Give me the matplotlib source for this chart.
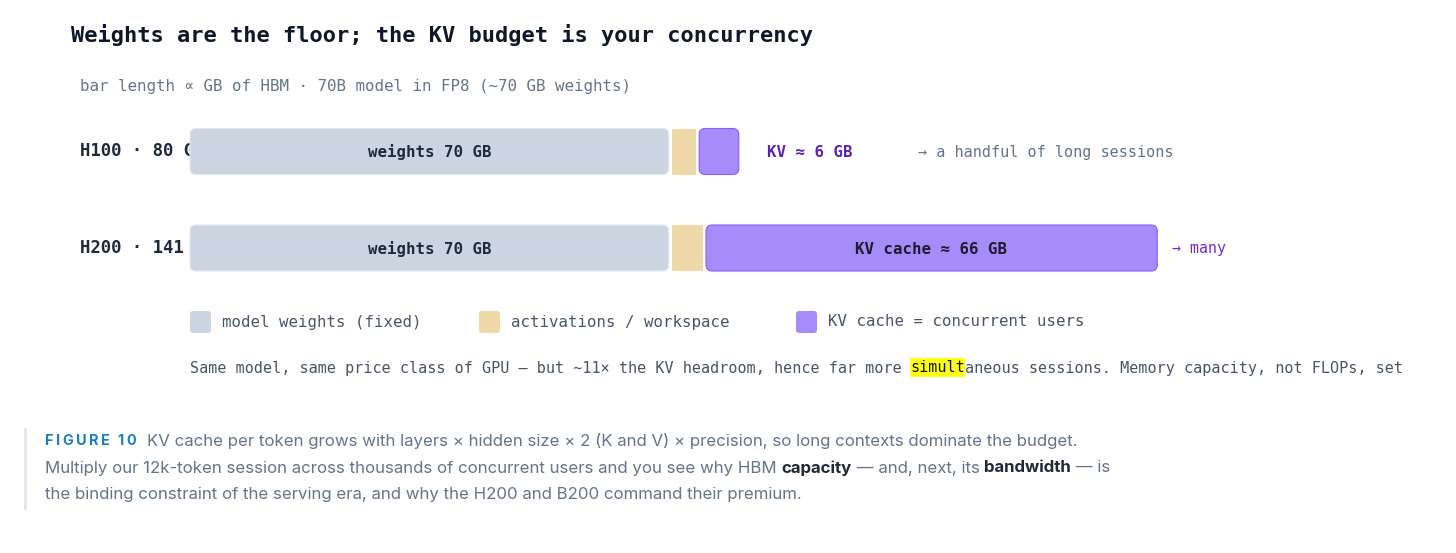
import matplotlib
matplotlib.use('Agg')
import matplotlib.pyplot as plt
from matplotlib.patches import FancyBboxPatch, Rectangle
from matplotlib.transforms import Affine2D

# data (GB of HBM)
gpus = ['H100 · 80 GB', 'H200 · 141 GB']
weights_gb = [70, 70]
activations_gb = [4, 5]
kv_gb = [6, 66]
kv_labels = ['KV ≈ 6 GB', 'KV cache ≈ 66 GB']
kv_notes = ['→ a handful of long sessions', '→ many']
legend_labels = ['model weights (fixed)', 'activations / workspace', 'KV cache = concurrent users']

C_W = '#cbd5e1'
C_ACT = '#f0d9a8'
C_KV = '#a78bfa'
MONO = 'DejaVu Sans Mono'

W, H = 1456, 553
fig = plt.figure(figsize=(W / 100, H / 100), dpi=100)
# pixel transform, origin top-left
px = Affine2D().scale(1.0 / W, -1.0 / H).translate(0, 1) + fig.transFigure

# bar axes: x in GB, y in pixels
ppg = 6.86
x0 = 190
ax = fig.add_axes([0, 0, 1, 1])
ax.set_xlim(-x0 / ppg, (W - x0) / ppg)
ax.set_ylim(H, 0)
ax.axis('off')

row_y = [151.5, 248]
bar_h = 46
gap = 3 / ppg

for i, gpu in enumerate(gpus):
    y = row_y[i]
    ax.text(80, y, gpu, transform=px, ha='left', va='center', family=MONO,
            fontsize=12.4, fontweight='bold', color='#1e293b', zorder=1)
    segs = [(weights_gb[i], C_W, True), (activations_gb[i], C_ACT, False), (kv_gb[i], C_KV, True)]
    start = 0
    for j, (v, c, rounded) in enumerate(segs):
        left = start + (gap / 2 if j > 0 else 0)
        right = start + v - (gap / 2 if j < len(segs) - 1 else 0)
        if rounded:
            r = 6 / ppg
            p = FancyBboxPatch((left + r, y - bar_h / 2 + r * ppg), right - left - 2 * r, bar_h - 2 * r * ppg,
                               boxstyle='round,pad=%f,rounding_size=%f' % (r, r), mutation_aspect=ppg,
                               facecolor=c, edgecolor='#8b5cf6' if c == C_KV else '#e2e8f0',
                               linewidth=0.8, zorder=3)
        else:
            p = Rectangle((left, y - bar_h / 2), right - left, bar_h, facecolor=c, edgecolor='none', zorder=3)
        ax.add_patch(p)
        start += v

    w_mid = weights_gb[i] / 2
    ax.text(w_mid, y + 1, 'weights %d GB' % weights_gb[i], ha='center', va='center', family=MONO,
            fontsize=11.3, fontweight='bold', color='#1e293b', zorder=4)

# H100: KV label outside the bar
end0 = weights_gb[0] + activations_gb[0] + kv_gb[0]
ax.text(end0 + 28 / ppg, row_y[0] + 1, kv_labels[0], ha='left', va='center', family=MONO,
        fontsize=11.3, fontweight='bold', color='#5b21b6', zorder=4)
ax.text(end0 + 179 / ppg, row_y[0] + 1, kv_notes[0], ha='left', va='center', family=MONO,
        fontsize=10.9, color='#64748b', zorder=4)
# H200: KV label inside the bar
kv_start1 = weights_gb[1] + activations_gb[1]
ax.text(kv_start1 + kv_gb[1] / 2, row_y[1] + 1, kv_labels[1], ha='center', va='center', family=MONO,
        fontsize=11.3, fontweight='bold', color='#1e1b2e', zorder=4)
ax.text(kv_start1 + kv_gb[1] + 15 / ppg, row_y[1] + 1, kv_notes[1], ha='left', va='center', family=MONO,
        fontsize=10.7, color='#6d28d9', zorder=4)

# title and subtitle
fig.text(71, 35, 'Weights are the floor; the KV budget is your concurrency', transform=px,
         ha='left', va='center', family=MONO, fontsize=15.8, fontweight='bold', color='#0f172a')
fig.text(80, 87, 'bar length ∝ GB of HBM · 70B model in FP8 (~70 GB weights)', transform=px,
         ha='left', va='center', family=MONO, fontsize=11.4, color='#64748b')

# legend
leg_x = [190, 479, 796]
for lx, lab, c in zip(leg_x, legend_labels, [C_W, C_ACT, C_KV]):
    ax.add_patch(FancyBboxPatch((lx + 3, 314), 15, 16, boxstyle='round,pad=3', transform=px,
                                facecolor=c, edgecolor='none', zorder=3))
    fig.text(lx + 32, 322, lab, transform=px, ha='left', va='center', family=MONO,
             fontsize=11.3, color='#475569')

# footnote with highlighted fragment
fs = 10.9
cw = fs * 100 / 72 * 0.6021
pre = 'Same model, same price class of GPU — but ~11× the KV headroom, hence far more '
hl = 'simult'
post = 'aneous sessions. Memory capacity, not FLOPs, set'
fy = 368
fig.text(190, fy, pre, transform=px, ha='left', va='center', family=MONO, fontsize=fs, color='#475569')
hx = 190 + len(pre) * cw
fig.patches.append(Rectangle((hx, fy - 10), len(hl) * cw, 19, transform=px, facecolor='#ffff1a',
                             edgecolor='none', zorder=1))
fig.text(hx, fy, hl, transform=px, ha='left', va='center', family=MONO, fontsize=fs, color='#111111', zorder=3)
fig.text(hx + len(hl) * cw, fy, post, transform=px, ha='left', va='center', family=MONO, fontsize=fs,
         color='#475569')

# caption
fig.patches.append(Rectangle((24, 428), 2.5, 82, transform=px, facecolor='#e5e7eb', edgecolor='none'))
renderer = fig.canvas.get_renderer()
CAP = 'Inter'
cap_fs = 12.1


def run(x, y, pieces):
    for s, bold, color in pieces:
        t = fig.text(x, y, s, transform=px, ha='left', va='center', family=CAP, fontsize=cap_fs,
                     fontweight='bold' if bold else 'normal', color=color)
        x += t.get_window_extent(renderer).width
    return x


x = 45
for ch in 'FIGURE 10':
    t = fig.text(x, 441, ch, transform=px, ha='left', va='center', family=CAP, fontsize=10.4,
                 fontweight='bold', color='#1a7fc1')
    x += t.get_window_extent(renderer).width + 2.4
gray = '#64748b'
dark = '#1e293b'
run(147, 441, [('KV cache per token grows with layers × hidden size × 2 (K and V) × precision, so long contexts dominate the budget.', False, gray)])
run(45, 468, [('Multiply our 12k-token session across thousands of concurrent users and you see why HBM ', False, gray),
              ('capacity', True, dark), (' — and, next, its ', False, gray), ('bandwidth', True, dark),
              (' — is', False, gray)])
run(45, 495, [('the binding constraint of the serving era, and why the H200 and B200 command their premium.', False, gray)])

fig.savefig('out.png', dpi=100, facecolor='white')
